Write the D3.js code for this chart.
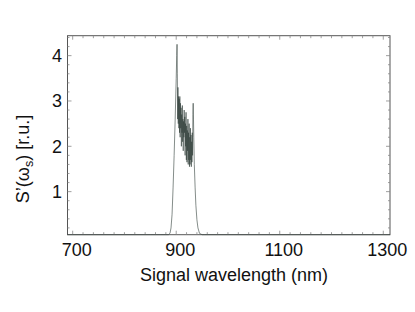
<!DOCTYPE html>
<html lang="en">
  <head>
    <meta charset="UTF-8" />
    <title>signal spectrum</title>
    <style>
      body {
        margin: 0;
        background: #fff;
      }
      svg {
        display: block;
        font-family: "Liberation Sans", Arial, Helvetica, sans-serif;
      }
    </style>
    <script src="https://cdn.jsdelivr.net/npm/d3@7"></script>
  </head>
  <body>
    <div class="container"></div>
    <script>
      // wavelength (nm) and spectral density S'(ws)
      const wavelength = [
        690, 850, 870, 880, 885, 888, 890, 892, 894, 896, 898, 900, 901, 901.6,
        902.2, 902.8, 903.4, 904, 904.6, 905.2, 905.8, 906.4, 907, 907.6, 908.2,
        908.8, 909.4, 910, 910.6, 911.2, 911.8, 912.4, 913, 913.6, 914.2, 914.8,
        915.4, 916, 916.6, 917.2, 917.8, 918.4, 919, 919.6, 920.2, 920.8, 921.4,
        922, 922.6, 923.2, 923.8, 924.4, 925, 925.6, 926.2, 926.8, 927.4, 928,
        928.6, 929.2, 929.8, 930.4, 931, 931.6, 932.2, 932.8, 933.4, 934, 935,
        936.5, 938, 940, 942, 945, 950, 955, 1313,
      ];
      const density = [
        0, 0, 0.002, 0.005, 0.03, 0.08, 0.2, 0.5, 1.1, 1.8, 2.6, 3.5, 4.0, 4.25,
        3.6, 2.6, 3.3, 2.5, 3.1, 2.4, 3.05, 2.3, 3.1, 2.2, 2.95, 2.4, 2.85, 2.0,
        2.7, 2.3, 2.9, 2.1, 2.6, 1.9, 2.55, 2.2, 2.8, 2.3, 2.65, 1.8, 2.5, 2.0,
        2.75, 1.7, 2.45, 1.65, 2.35, 1.9, 2.6, 1.6, 2.3, 1.7, 2.5, 1.55, 2.2,
        1.6, 2.4, 1.7, 2.25, 1.55, 2.1, 1.65, 2.3, 1.8, 2.7, 2.95, 2.6, 2.2, 1.6,
        1.1, 0.7, 0.38, 0.2, 0.08, 0.02, 0, 0,
      ];
      const xTickLabels = [700, 900, 1100, 1300];
      const yTickLabels = [1, 2, 3, 4];

      const data = wavelength.map((w, i) => ({ w: w, s: density[i] }));

      function init() {
        const width = 415,
          height = 312;
        const left = 67.5,
          right = 390,
          top = 35.7,
          bottom = 234.7;

        const x = d3.scaleLinear().domain([690, 1313]).range([left, right]);
        const y = d3.scaleLinear().domain([0.05, 4.44]).range([bottom, top]);

        const svg = d3
          .select(".container")
          .append("svg")
          .attr("width", width)
          .attr("height", height);

        // frame
        svg
          .append("rect")
          .attr("x", left)
          .attr("y", top)
          .attr("width", right - left)
          .attr("height", bottom - top)
          .attr("fill", "none")
          .attr("stroke", "#555")
          .attr("stroke-width", 1);

        // ticks, pointing inward on all four sides
        const xMinor = d3.range(700, 1301, 20);
        const yMinor = d3.range(0.2, 4.41, 0.2);
        const tickG = svg.append("g").attr("stroke", "#888").attr("stroke-width", 0.8);

        xMinor.forEach(function (v) {
          const len = v % 200 === 100 ? 4 : 2.5;
          tickG
            .append("line")
            .attr("x1", x(v))
            .attr("x2", x(v))
            .attr("y1", bottom)
            .attr("y2", bottom - len);
          tickG
            .append("line")
            .attr("x1", x(v))
            .attr("x2", x(v))
            .attr("y1", top)
            .attr("y2", top + len);
        });

        yMinor.forEach(function (v) {
          const major = Math.abs(v - Math.round(v)) < 0.01;
          const len = major ? 4 : 2;
          tickG
            .append("line")
            .attr("x1", left)
            .attr("x2", left + len)
            .attr("y1", y(v))
            .attr("y2", y(v));
          tickG
            .append("line")
            .attr("x1", right)
            .attr("x2", right - len)
            .attr("y1", y(v))
            .attr("y2", y(v));
        });

        // tick labels
        svg
          .selectAll(".xlab")
          .data(xTickLabels)
          .enter()
          .append("text")
          .attr("class", "xlab")
          .attr("x", (d) => x(d) + 4)
          .attr("y", 256)
          .attr("text-anchor", "middle")
          .attr("font-size", 18)
          .attr("fill", "#111")
          .text((d) => d);

        svg
          .selectAll(".ylab")
          .data(yTickLabels)
          .enter()
          .append("text")
          .attr("class", "ylab")
          .attr("x", 62)
          .attr("y", (d) => y(d))
          .attr("dy", "0.36em")
          .attr("text-anchor", "end")
          .attr("font-size", 18)
          .attr("fill", "#111")
          .text((d) => d);

        // axis titles
        svg
          .append("text")
          .attr("x", 234)
          .attr("y", 281)
          .attr("text-anchor", "middle")
          .attr("font-size", 18)
          .attr("fill", "#111")
          .text("Signal wavelength (nm)");

        const yt = svg
          .append("text")
          .attr("transform", "translate(29,159) rotate(-90)")
          .attr("text-anchor", "middle")
          .attr("font-size", 18)
          .attr("fill", "#111");
        yt.append("tspan").text("S\u2019(\u03c9");
        yt.append("tspan")
          .attr("font-size", 12.5)
          .attr("dy", 4)
          .text("s");
        yt.append("tspan").attr("dy", -4).text(") [r.u.]");

        // spectrum
        const line = d3
          .line()
          .x((d) => x(d.w))
          .y((d) => y(Math.max(d.s, 0.05)));

        svg
          .append("path")
          .datum(data)
          .attr("d", line)
          .attr("fill", "none")
          .attr("stroke", "#33403b")
          .attr("stroke-width", 0.6)
          .attr("stroke-linejoin", "round");
      }
      init();
    </script>
  </body>
</html>
